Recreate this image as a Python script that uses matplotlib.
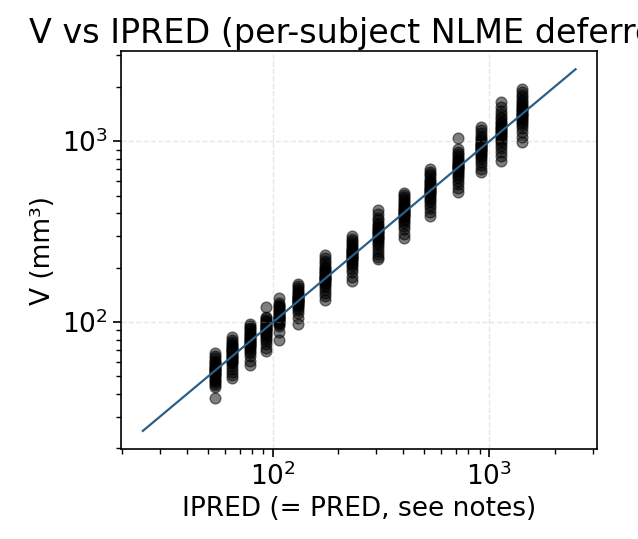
import numpy as np
import matplotlib
matplotlib.use("Agg")
import matplotlib.pyplot as plt

ipred = [54, 64.5, 78, 93, 107, 131, 174, 232, 305, 403, 531, 719, 910, 1135, 1409]
v_obs = [
    [67, 65, 63, 61, 60, 59, 58, 57, 56, 55.5, 55, 54, 53.5, 53, 52, 51.5, 51, 50, 49, 48, 47, 46, 45, 44, 38],
    [83, 80, 78, 76, 75, 73, 72, 71, 70, 69, 68, 67, 66, 65, 64, 63, 62, 61, 60, 59, 57, 55, 53, 51, 49],
    [98, 95, 93, 91, 89, 87, 86, 85, 83, 82, 81, 80, 79, 78, 77, 76, 75, 74, 73, 71, 69, 67, 65, 61, 58],
    [121, 107, 105, 103, 101, 100, 98, 97, 96, 95, 94, 93, 92, 91, 90, 89, 87, 86, 85, 83, 81, 79, 76, 72, 69],
    [136, 128, 125, 123, 121, 119, 117, 115, 113, 112, 111, 110, 108, 107, 106, 105, 104, 103, 102, 100, 99, 97, 95, 88, 80],
    [162, 158, 154, 150, 147, 145, 142, 140, 138, 136, 135, 133, 132, 131, 130, 129, 127, 126, 124, 122, 119, 116, 112, 105, 97],
    [236, 226, 218, 212, 205, 200, 196, 192, 189, 186, 183, 180, 178, 176, 174, 172, 170, 167, 164, 160, 156, 151, 145, 139, 133],
    [298, 288, 280, 272, 266, 260, 255, 250, 246, 243, 240, 237, 235, 232, 230, 227, 224, 220, 216, 210, 204, 196, 188, 178, 168],
    [419, 395, 378, 365, 355, 345, 337, 330, 324, 318, 313, 309, 305, 301, 297, 292, 287, 281, 274, 266, 257, 248, 238, 230, 222],
    [519, 505, 490, 478, 466, 455, 446, 438, 430, 424, 418, 412, 407, 402, 397, 392, 386, 379, 371, 362, 352, 340, 325, 308, 293],
    [699, 680, 660, 640, 622, 606, 592, 580, 570, 560, 552, 544, 537, 531, 524, 516, 508, 498, 488, 476, 462, 446, 428, 405, 386],
    [1040, 903, 875, 850, 828, 808, 790, 775, 762, 750, 740, 730, 722, 715, 707, 698, 688, 676, 662, 646, 628, 605, 578, 550, 521],
    [1192, 1150, 1110, 1075, 1045, 1020, 998, 980, 965, 950, 937, 925, 915, 905, 895, 883, 870, 855, 838, 818, 795, 768, 738, 705, 673],
    [1641, 1540, 1470, 1410, 1360, 1320, 1285, 1255, 1228, 1205, 1183, 1162, 1143, 1125, 1107, 1088, 1068, 1045, 1020, 990, 955, 915, 870, 825, 782],
    [1945, 1880, 1810, 1750, 1695, 1650, 1610, 1575, 1545, 1517, 1490, 1465, 1440, 1418, 1396, 1373, 1350, 1324, 1295, 1262, 1225, 1180, 1125, 1060, 987],
]
identity = [25, 2500]

xs = np.concatenate([[x] * len(v) for x, v in zip(ipred, v_obs)])
ys = np.concatenate(v_obs)

fig = plt.figure(figsize=(6.38, 5.39), dpi=100)
ax = fig.add_axes([0.19, 0.167, 0.746, 0.738])

ax.scatter(xs, ys, s=60, c="k", alpha=0.5, linewidths=1)
ax.plot(identity, identity, color="#2b5f87", lw=1.6)
ax.set_xscale("log")
ax.set_yscale("log")
ax.grid(True, which="major", ls="--", lw=1, alpha=0.3)

ax.set_xlabel("IPRED (= PRED, see notes)", fontsize=19)
ax.set_ylabel("V (mm³)", fontsize=19)
ax.set_title("V vs IPRED (per-subject NLME deferred)", fontsize=24)
ax.tick_params(axis="both", which="major", labelsize=19, length=6, width=1.2)
ax.tick_params(axis="both", which="minor", length=3.5, width=1)
for s in ax.spines.values():
    s.set_linewidth(1.2)

fig.savefig("out.png", dpi=100)
